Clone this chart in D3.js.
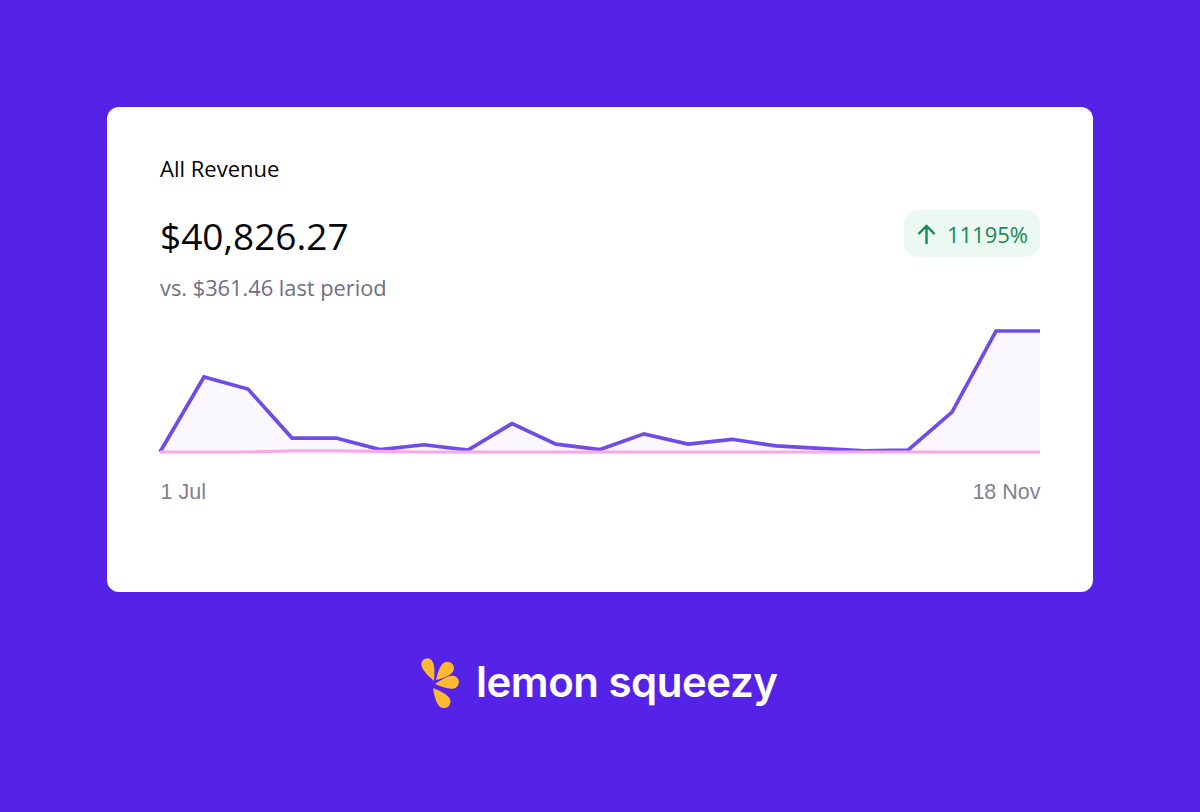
<!DOCTYPE html>
<html>
<head>
<meta charset="utf-8">
<script src="https://cdn.jsdelivr.net/npm/d3@7"></script>
<style>
  html, body { margin: 0; padding: 0; background: #5423E7; }
  svg { display: block; }
  .axis text { font-family: "Liberation Sans", Arial, sans-serif; font-size: 21.5px; fill: #82828f; }
  .ui { font-family: "Open Sans", "Noto Sans", sans-serif; }
</style>
</head>
<body>
<svg></svg>
<script>
const width = 1200;
const height = 812;

// weekly points, 1 Jul to 18 Nov
const weeks = ["07-01","07-08","07-15","07-22","07-29","08-05","08-12","08-19","08-26","09-02","09-09",
               "09-16","09-23","09-30","10-07","10-14","10-21","10-28","11-04","11-11","11-18"];
const currentPeriod = [0, 62, 52, 11.5, 11.5, 2, 6, 1.5, 23.5, 6.5, 2, 15, 6.5, 10.5, 5, 3, 1, 1.5, 33, 100, 100];
const lastPeriod = [0, 0, 0, 1, 1, 0.5, 0, 0, 0, 0, 0, 0, 0, 0, 0, 0, 0, 0, 0, 0, 0];
const axisLabels = ["1 Jul", "18 Nov"];

const parseWeek = d3.utcParse("%Y-%m-%d");
const dates = weeks.map(d => parseWeek("2022-" + d));

const svg = d3.select("svg")
  .attr("width", width)
  .attr("height", height)
  .attr("viewBox", `0 0 ${width} ${height}`);

// CARD

svg.append("rect")
  .attr("x", 107)
  .attr("y", 107)
  .attr("width", 986)
  .attr("height", 485)
  .attr("rx", 12)
  .attr("fill", "#fff");

svg.append("text")
  .attr("class", "ui")
  .attr("x", 160)
  .attr("y", 177)
  .attr("font-size", 22)
  .attr("fill", "#050508")
  .text("All Revenue");

svg.append("text")
  .attr("class", "ui")
  .attr("x", 160)
  .attr("y", 250)
  .attr("font-size", 37)
  .attr("fill", "#050508")
  .text("$40,826.27");

svg.append("text")
  .attr("class", "ui")
  .attr("x", 160)
  .attr("y", 296)
  .attr("font-size", 21.8)
  .attr("fill", "#6f6f85")
  .text("vs. $361.46 last period");

// BADGE

svg.append("rect")
  .attr("x", 904)
  .attr("y", 210)
  .attr("width", 136)
  .attr("height", 47)
  .attr("rx", 14)
  .attr("fill", "#ecf9f3");

svg.append("path")
  .attr("d", "M926.5 244V226M918.5 234L926.5 226L934.5 234")
  .attr("fill", "none")
  .attr("stroke", "#178a52")
  .attr("stroke-width", 2.4);

svg.append("text")
  .attr("class", "ui")
  .attr("x", 1028)
  .attr("y", 243)
  .attr("text-anchor", "end")
  .attr("font-size", 22)
  .attr("fill", "#178a52")
  .text("11195%");

// CHART

const x = d3.scaleUtc()
  .domain(d3.extent(dates))
  .range([160, 1040]);

const y = d3.scaleLinear()
  .domain([0, 100])
  .range([452, 331]);

const area = d3.area()
  .x((d, i) => x(dates[i]))
  .y0(y(0))
  .y1(d => y(d));

const line = d3.line()
  .x((d, i) => x(dates[i]))
  .y(d => y(d));

svg.append("path")
  .attr("d", area(currentPeriod))
  .attr("fill", "#faf8fe");

svg.append("path")
  .attr("d", line(currentPeriod))
  .attr("fill", "none")
  .attr("stroke", "#6f4ce8")
  .attr("stroke-width", 3.7);

svg.append("path")
  .attr("d", line(lastPeriod))
  .attr("fill", "none")
  .attr("stroke", "#fba8e8")
  .attr("stroke-width", 3.2);

const axis = d3.axisBottom(x)
  .tickValues([dates[0], dates[dates.length - 1]])
  .tickFormat((d, i) => axisLabels[i])
  .tickSize(0)
  .tickPadding(0);

const axisG = svg.append("g")
  .attr("class", "axis")
  .attr("transform", "translate(0, 484)")
  .call(axis);

axisG.select(".domain").remove();
axisG.selectAll("text")
  .attr("text-anchor", (d, i) => i === 0 ? "start" : "end");

// LOGO

function petal(len, r) {
  return `M0 0C${-r * 0.5} ${-len * 0.25} ${-r} ${-len * 0.5} ${-r} ${-len + r}` +
         `A${r} ${r} 0 0 1 ${r} ${-len + r}C${r} ${-len * 0.5} ${r * 0.5} ${-len * 0.25} 0 0Z`;
}

svg.append("g")
  .selectAll("path")
  .data([
    [434, 681, -22, 24, 6],
    [436, 680, 44, 23, 6.5],
    [435, 684, 84, 24, 6.5],
    [433, 688, 141, 24, 6.5]
  ])
  .join("path")
  .attr("d", d => petal(d[3], d[4]))
  .attr("transform", d => `translate(${d[0]},${d[1]}) rotate(${d[2]})`)
  .attr("fill", "#ffb930");

svg.append("text")
  .attr("x", 476)
  .attr("y", 697)
  .attr("font-family", "Inter, sans-serif")
  .attr("font-weight", 600)
  .attr("font-size", 42)
  .attr("letter-spacing", -0.5)
  .attr("fill", "#fff")
  .text("lemon squeezy");
</script>
</body>
</html>
